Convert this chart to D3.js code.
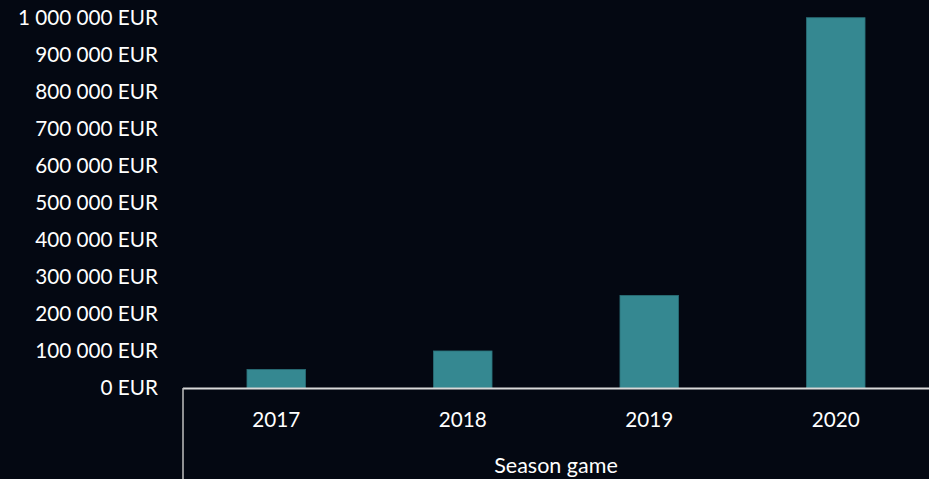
<!DOCTYPE html>
<html><head><meta charset="utf-8">
<script src="https://cdn.jsdelivr.net/npm/d3@7"></script>
<style>
html,body{margin:0;padding:0;background:#040812;}
svg{display:block;}
text{font-family:Lato,"Open Sans",sans-serif;fill:#ffffff;}
</style></head>
<body>
<script>
const categories = ["2017","2018","2019","2020"];
const values = [50000, 100000, 250000, 1000000];
const yTicks = [0,100000,200000,300000,400000,500000,600000,700000,800000,900000,1000000];
const xTitle = "Season game";

const W = 929, H = 479;
const svg = d3.select("body").append("svg").attr("width",W).attr("height",H);
svg.append("rect").attr("width",W).attr("height",H).attr("fill","#040812");

const x = d3.scaleBand().domain(categories).range([183, 929]).paddingInner(0.686).paddingOuter(0.343);
const y = d3.scaleLinear().domain([0,1000000]).range([388, 17.7]);

const fmt = v => d3.format(",")(v).replace(/,/g," ") + " EUR";

// y labels
svg.append("g").selectAll("text").data(yTicks).join("text")
  .attr("x",158).attr("y",d=>y(d)).attr("dy","0.35em")
  .attr("text-anchor","end").attr("font-size",20.7).text(fmt);

// bars
svg.append("g").selectAll("rect").data(categories).join("rect")
  .attr("x",d=>x(d)).attr("width",x.bandwidth())
  .attr("y",(d,i)=>y(values[i])).attr("height",(d,i)=>y(0)-y(values[i]))
  .attr("fill","#358891").attr("stroke","#2a6f78").attr("stroke-width",0.8);

// axis lines
svg.append("line").attr("x1",183).attr("x2",929).attr("y1",y(0)+0.5).attr("y2",y(0)+0.5)
  .attr("stroke","#d9d9d9").attr("stroke-width",2);
svg.append("line").attr("x1",183).attr("x2",183).attr("y1",y(0)).attr("y2",H)
  .attr("stroke","#bfbfbf").attr("stroke-width",1.5);

// x labels
svg.append("g").selectAll("text").data(categories).join("text")
  .attr("x",d=>x(d)+x.bandwidth()/2).attr("y",420).attr("dy","0.35em")
  .attr("text-anchor","middle").attr("font-size",20.7).text(d=>d);

svg.append("text").attr("x",(183+929)/2).attr("y",473)
  .attr("text-anchor","middle").attr("font-size",21.5).text(xTitle);
</script>
</body></html>
